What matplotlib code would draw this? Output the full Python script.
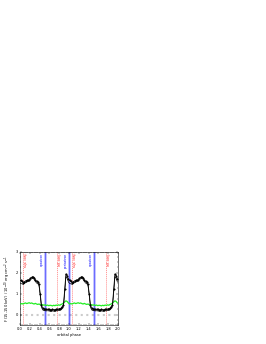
import numpy as np
import matplotlib
matplotlib.use("Agg")
import matplotlib.pyplot as plt
from matplotlib.ticker import MultipleLocator

# ---- phase-folded light curve, one orbit (40 bins), shown twice ----
phase = np.arange(0.0125, 1.0, 0.025)

flux_hi = [1.62, 1.58, 1.52, 1.55, 1.60, 1.62, 1.63, 1.66, 1.72, 1.77,
           1.80, 1.75, 1.65, 1.58, 1.55, 1.45, 1.00, 0.45, 0.30, 0.27,
           0.25, 0.24, 0.25, 0.24, 0.23, 0.22, 0.24, 0.23, 0.22, 0.25,
           0.24, 0.26, 0.28, 0.30, 0.38, 0.45, 1.20, 1.93, 1.85, 1.68]

flux_lo = [1.48, 1.46, 1.44, 1.47, 1.52, 1.55, 1.57, 1.60, 1.66, 1.70,
           1.72, 1.68, 1.58, 1.50, 1.47, 1.38, 0.90, 0.35, 0.22, 0.19,
           0.18, 0.17, 0.18, 0.17, 0.16, 0.16, 0.17, 0.16, 0.16, 0.18,
           0.17, 0.19, 0.21, 0.24, 0.32, 0.40, 1.05, 1.80, 1.72, 1.55]

flux_green = [0.50, 0.52, 0.50, 0.53, 0.55, 0.52, 0.54, 0.56, 0.53, 0.55,
              0.52, 0.50, 0.53, 0.50, 0.48, 0.50, 0.47, 0.45, 0.47, 0.44,
              0.46, 0.43, 0.45, 0.42, 0.44, 0.43, 0.41, 0.44, 0.42, 0.45,
              0.43, 0.46, 0.44, 0.48, 0.50, 0.55, 0.60, 0.65, 0.62, 0.55]

# orbital markers
blue_phases = [0.5, 1.0, 1.5]
blue_labels = ["apastron", "periastron", "apastron"]
red_phases = [0.06, 0.755, 1.06, 1.755]
red_labels = ["sup. conj.", "inf. conj.", "sup. conj.", "inf. conj."]

x = np.concatenate([phase, phase + 1])
yh = np.concatenate([flux_hi, flux_hi])
yl = np.concatenate([flux_lo, flux_lo])
yg = np.concatenate([flux_green, flux_green])

fig = plt.figure(figsize=(2.66, 3.44), dpi=100)
ax = fig.add_axes([20 / 266, 19 / 344, 98 / 266, 73.5 / 344])

ax.axhline(0, color="0.8", lw=1.5, ls=":", zorder=1)

for p, lab in zip(blue_phases, blue_labels):
    ax.axvline(p, color="blue", lw=1.8, alpha=0.3, zorder=1)
    ax.axvline(p, color="blue", lw=0.4, alpha=0.7, zorder=1)
    ax.text(p - 0.025, 2.93, lab, rotation=90, ha="right", va="top",
            fontsize=2.2, color="blue")
for p, lab in zip(red_phases, red_labels):
    ax.axvline(p, color="red", lw=0.4, ls=(0, (2, 1.5)), alpha=0.7, zorder=1)
    ax.text(p + 0.025, 2.93, lab, rotation=90, ha="left", va="top",
            fontsize=2.2, color="red")

ax.plot(x, yg, color="#22ee22", lw=0.9, zorder=3)
ax.plot(x, yl, color="black", lw=0.5, zorder=4)
ax.plot(x, yh, color="black", lw=0.6, marker="s", ms=0.5, zorder=5)

ax.set_xlim(0, 2)
ax.set_ylim(-0.5, 3)
ax.xaxis.set_major_locator(MultipleLocator(0.2))
ax.xaxis.set_minor_locator(MultipleLocator(0.05))
ax.yaxis.set_major_locator(MultipleLocator(1))
ax.yaxis.set_minor_locator(MultipleLocator(0.25))
ax.tick_params(which="both", direction="in", top=True, right=True,
               labelsize=2.6, width=0.3, pad=1.2)
ax.tick_params(which="major", length=1.5)
ax.tick_params(which="minor", length=0.8)
ax.xaxis.set_major_formatter(plt.FuncFormatter(lambda v, _: f"{v:.1f}"))
for s in ax.spines.values():
    s.set_linewidth(0.4)

ax.set_xlabel("orbital phase", fontsize=2.6, labelpad=1.5)
ax.set_ylabel(r"F (15-150 keV) / 10$^{-10}$ erg cm$^{-2}$ s$^{-1}$",
              fontsize=2.6, labelpad=2)

fig.savefig("out.png", dpi=100)
